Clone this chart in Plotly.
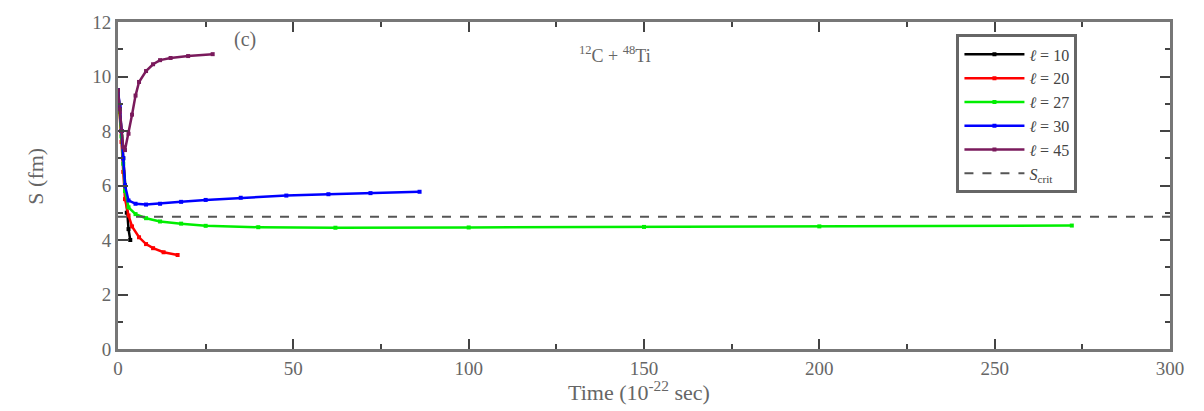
import plotly.graph_objects as go

# ---- data ----
x_l10 = [0, 0.5, 1, 1.5, 2, 2.5, 3, 3.5]
y_l10 = [9.5, 8.8, 8.0, 7.0, 6.0, 5.0, 4.4, 4.0]

x_l20 = [0, 0.5, 1, 1.5, 2, 3, 4, 6, 8, 10, 13, 17]
y_l20 = [9.5, 8.7, 7.6, 6.5, 5.5, 4.9, 4.5, 4.1, 3.85, 3.7, 3.55, 3.45]

x_l27 = [0, 0.5, 1, 1.5, 2, 3, 5, 8, 12, 18, 25, 40, 62, 100, 150, 200, 272]
y_l27 = [9.5, 8.8, 7.8, 6.8, 5.8, 5.2, 4.95, 4.8, 4.68, 4.6, 4.52, 4.47, 4.45, 4.46, 4.48, 4.5, 4.53]

x_l30 = [0, 0.5, 1, 1.5, 2, 3, 5, 8, 12, 18, 25, 35, 48, 60, 72, 86]
y_l30 = [9.5, 8.9, 8.0, 7.0, 6.0, 5.45, 5.33, 5.3, 5.33, 5.4, 5.47, 5.55, 5.63, 5.68, 5.72, 5.77]

x_l45 = [0, 0.5, 1, 1.5, 2, 3, 4, 5, 6, 8, 10, 12, 15, 20, 27]
y_l45 = [9.5, 8.8, 8.0, 7.4, 7.3, 7.9, 8.6, 9.3, 9.8, 10.2, 10.45, 10.6, 10.68, 10.75, 10.82]

x_crit = [0, 300]
y_crit = [4.85, 4.85]

series = [
    ("<i>ℓ</i> = 10", x_l10, y_l10, "#000000"),
    ("<i>ℓ</i> = 20", x_l20, y_l20, "#ff0000"),
    ("<i>ℓ</i> = 27", x_l27, y_l27, "#00ee00"),
    ("<i>ℓ</i> = 30", x_l30, y_l30, "#0000ff"),
    ("<i>ℓ</i> = 45", x_l45, y_l45, "#7a1a5c"),
]

font_family = "Liberation Serif, Times New Roman, serif"

fig = go.Figure()
for name, xs, ys, col in series:
    fig.add_trace(go.Scatter(
        x=xs, y=ys, name=name, mode="lines+markers",
        line=dict(color=col, width=2.5),
        marker=dict(color=col, size=4, symbol="square"),
    ))

fig.add_trace(go.Scatter(
    x=x_crit, y=y_crit, name="<i>S</i><sub>crit</sub>", mode="lines",
    line=dict(color="#555555", width=2, dash="dash"),
))

axis_common = dict(
    showgrid=False, zeroline=False, showline=True, mirror="allticks",
    linecolor="#777777", linewidth=3,
    ticks="inside", tickcolor="#444444", tickwidth=2, ticklen=10,
    tickfont=dict(family=font_family, size=19, color="#666666"),
)

fig.update_layout(
    width=1204, height=411,
    margin=dict(l=118, r=34, t=12, b=62),
    plot_bgcolor="white", paper_bgcolor="white",
    font=dict(family=font_family, color="#555555"),
    xaxis=dict(
        range=[0, 300], tickvals=[0, 50, 100, 150, 200, 250, 300],
        minor=dict(tickvals=[25, 75, 125, 175, 225, 275], ticks="inside",
                   ticklen=5, tickcolor="#444444", tickwidth=2),
        **axis_common,
    ),
    yaxis=dict(
        range=[0, 12], tickvals=[0, 2, 4, 6, 8, 10, 12],
        minor=dict(tickvals=[1, 3, 5, 7, 9, 11], ticks="inside",
                   ticklen=5, tickcolor="#444444", tickwidth=2),
        **axis_common,
    ),
    legend=dict(
        x=0.797, y=0.962, xanchor="left", yanchor="top",
        bgcolor="white", bordercolor="#666666", borderwidth=3,
        font=dict(family=font_family, size=16, color="#444444"),
        tracegroupgap=0, itemwidth=60,
    ),
    showlegend=True,
)

fig.add_annotation(text="Time (10<sup>-22</sup> sec)", x=0.495, y=-0.128,
                   xref="paper", yref="paper", xanchor="center", yanchor="middle",
                   showarrow=False, font=dict(family=font_family, size=22, color="#666666"))
fig.add_annotation(text="S (fm)", x=-0.078, y=0.53, textangle=-90,
                   xref="paper", yref="paper", xanchor="center", yanchor="middle",
                   showarrow=False, font=dict(family=font_family, size=22, color="#666666"))
fig.add_annotation(text="(c)", x=0.121, y=0.947, xref="paper", yref="paper",
                   xanchor="center", yanchor="middle",
                   showarrow=False, font=dict(family=font_family, size=20, color="#666666"))
fig.add_annotation(text="<sup>12</sup>C + <sup>48</sup>Ti", x=0.472, y=0.902,
                   xref="paper", yref="paper", xanchor="center", yanchor="middle",
                   showarrow=False,
                   font=dict(family=font_family, size=18, color="#666666"))

fig.write_html("out.html")
